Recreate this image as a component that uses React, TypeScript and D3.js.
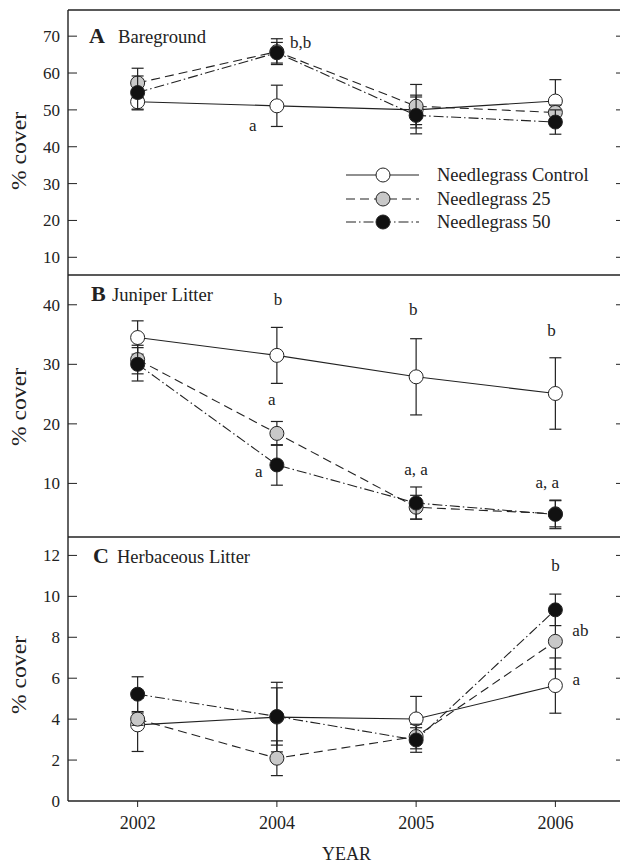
import React from 'react';
import * as d3 from 'd3';

// ---------- data ----------
const years = ['2002', '2004', '2005', '2006'];
const seriesNames = ['Needlegrass Control', 'Needlegrass 25', 'Needlegrass 50'];

// Panel A: Bareground
const bareControl = [52.2, 51.1, 50.0, 52.4];
const bareControlErr = [2.2, 5.6, 4.0, 5.8];
const bare25 = [57.3, 65.8, 51.0, 49.3];
const bare25Err = [4.0, 3.5, 5.9, 2.0];
const bare50 = [54.7, 65.5, 48.5, 46.7];
const bare50Err = [4.5, 2.8, 5.0, 3.3];

// Panel B: Juniper Litter
const junControl = [34.5, 31.5, 27.9, 25.1];
const junControlErr = [2.8, 4.7, 6.4, 6.0];
const jun25 = [30.8, 18.4, 6.0, 4.9];
const jun25Err = [2.4, 2.0, 2.0, 2.2];
const jun50 = [30.0, 13.1, 6.7, 4.8];
const jun50Err = [2.8, 3.4, 2.7, 2.4];

// Panel C: Herbaceous Litter
const herbControl = [3.72, 4.1, 4.01, 5.64];
const herbControlErr = [1.3, 1.7, 1.1, 1.35];
const herb25 = [4.0, 2.09, 3.15, 7.8];
const herb25Err = [0.3, 0.85, 0.6, 1.35];
const herb50 = [5.22, 4.13, 2.98, 9.34];
const herb50Err = [0.85, 1.4, 0.6, 0.77];

const ticksA = [10, 20, 30, 40, 50, 60, 70];
const ticksB = [10, 20, 30, 40];
const ticksC = [0, 2, 4, 6, 8, 10, 12];

// annotation labels: [text, year, value anchor (baseline), dx, anchor]
const notesA: [string, string, number, number, string][] = [
  ['a', '2004', 44.3, -24, 'middle'],
  ['b,b', '2004', 66.8, 13, 'start'],
];
const notesB: [string, string, number, number, string][] = [
  ['b', '2004', 40.0, 1, 'middle'],
  ['b', '2005', 38.3, -3, 'middle'],
  ['b', '2006', 34.75, -4, 'middle'],
  ['a', '2004', 23.2, -5, 'middle'],
  ['a', '2004', 11.1, -18, 'middle'],
  ['a, a', '2005', 11.4, 0, 'middle'],
  ['a, a', '2006', 9.2, -8, 'middle'],
];
const notesC: [string, string, number, number, string][] = [
  ['b', '2006', 11.24, 0, 'middle'],
  ['ab', '2006', 8.06, 25, 'middle'],
  ['a', '2006', 5.67, 21, 'middle'],
];

// ---------- styles ----------
const INK = '#222';
const FONT = "'Liberation Serif', Tinos, 'DejaVu Serif', serif";
const fills = ['#ffffff', '#c8c8c8', '#111111'];
const dashes = [null, '9,5', '10,3,1.5,3'];

const L = 68, R = 625;
const x = d3.scalePoint<string>().domain(years).range([L, R]).padding(0.5);

interface Panel {
  top: number; bottom: number; domain: [number, number]; ticks: number[];
  series: number[][]; errs: number[][]; letter: string; title: string; titleW: number;
  notes: [string, string, number, number, string][]; ylabY: number;
}

const panels: Panel[] = [
  { top: 10, bottom: 275, domain: [5.2, 77.1], ticks: ticksA,
    series: [bareControl, bare25, bare50], errs: [bareControlErr, bare25Err, bare50Err],
    letter: 'A', title: 'Bareground', titleW: 88, notes: notesA, ylabY: 151 },
  { top: 275, bottom: 537, domain: [1, 45], ticks: ticksB,
    series: [junControl, jun25, jun50], errs: [junControlErr, jun25Err, jun50Err],
    letter: 'B', title: 'Juniper Litter', titleW: 101, notes: notesB, ylabY: 407 },
  { top: 537, bottom: 801, domain: [0, 12.9], ticks: ticksC,
    series: [herbControl, herb25, herb50], errs: [herbControlErr, herb25Err, herb50Err],
    letter: 'C', title: 'Herbaceous Litter', titleW: 133, notes: notesC, ylabY: 675 },
];

const titlePos = [
  { lx: 89, tx: 118, off: 33 },
  { lx: 91, tx: 112, off: 26 },
  { lx: 93, tx: 117, off: 26 },
];

const txt = { fontFamily: FONT, fill: INK };

function PanelView({ p, idx }: { p: Panel; idx: number }) {
  const y = d3.scaleLinear().domain(p.domain).range([p.bottom, p.top]);
  const line = d3.line<[string, number]>().x(d => x(d[0]) as number).y(d => y(d[1]));
  const tp = titlePos[idx];
  return (
    <g>
      {p.ticks.map(t => (
        <g key={t}>
          {y(t) < p.bottom - 1 && <line x1={L} x2={L + 9} y1={y(t)} y2={y(t)} stroke={INK} strokeWidth={1} />}
          {y(t) < p.bottom - 1 && <line x1={R} x2={R - 9} y1={y(t)} y2={y(t)} stroke={INK} strokeWidth={1} />}
          <text x={60} y={y(t) + 6} textAnchor="end" fontSize={17} style={txt}>{t}</text>
        </g>
      ))}
      <text transform={`translate(26,${p.ylabY}) rotate(-90)`} textAnchor="middle" fontSize={22}
        style={txt} textLength={78} lengthAdjust="spacingAndGlyphs">% cover</text>
      <text x={tp.lx} y={p.top + tp.off} fontSize={22} fontWeight="bold" style={txt}>{p.letter}</text>
      <text x={tp.tx} y={p.top + tp.off} fontSize={18} style={txt}
        textLength={p.titleW} lengthAdjust="spacingAndGlyphs">{p.title}</text>
      {p.series.map((s, si) => (
        <path key={'l' + si} d={line(years.map((yr, i) => [yr, s[i]] as [string, number])) || ''}
          fill="none" stroke={INK} strokeWidth={1.1} strokeDasharray={dashes[si] || undefined} />
      ))}
      {p.series.map((s, si) => (
        <g key={'m' + si}>
          {s.map((v, i) => {
            const cx = x(years[i]) as number;
            const e = p.errs[si][i];
            const y1 = y(v + e), y2 = y(v - e);
            return (
              <g key={i}>
                <line x1={cx} x2={cx} y1={y1} y2={y2} stroke={INK} strokeWidth={1.2} />
                <line x1={cx - 6} x2={cx + 6} y1={y1} y2={y1} stroke={INK} strokeWidth={1.2} />
                <line x1={cx - 6} x2={cx + 6} y1={y2} y2={y2} stroke={INK} strokeWidth={1.2} />
                <circle cx={cx} cy={y(v)} r={7} fill={fills[si]} stroke={INK} strokeWidth={1} />
              </g>
            );
          })}
        </g>
      ))}
      {p.notes.map((n, i) => (
        <text key={'n' + i} x={(x(n[1]) as number) + n[3]} y={y(n[2])} textAnchor={n[4] as any}
          fontSize={17} style={txt}>{n[0]}</text>
      ))}
    </g>
  );
}

export default function App() {
  const legendY = [175, 199, 222];
  return (
    <svg width={620} height={864} style={{ position: 'absolute', left: 0, top: 0, background: '#fff' }}>
      <rect x={0} y={0} width={620} height={864} fill="#fff" />
      {panels.map((p, i) => <PanelView key={i} p={p} idx={i} />)}
      <line x1={L} x2={R} y1={10} y2={10} stroke={INK} strokeWidth={1.4} />
      <line x1={L} x2={R} y1={275} y2={275} stroke={INK} strokeWidth={1.4} />
      <line x1={L} x2={R} y1={537} y2={537} stroke={INK} strokeWidth={1.4} />
      <line x1={L} x2={R} y1={801} y2={801} stroke={INK} strokeWidth={1.4} />
      <line x1={L} x2={L} y1={10} y2={801} stroke={INK} strokeWidth={1.4} />
      <line x1={R} x2={R} y1={10} y2={801} stroke={INK} strokeWidth={1.4} />
      {years.map(yr => (
        <g key={yr}>
          <line x1={x(yr) as number} x2={x(yr) as number} y1={801} y2={807} stroke={INK} strokeWidth={1} />
          <text x={x(yr) as number} y={829} textAnchor="middle" fontSize={18} style={txt}>{yr}</text>
        </g>
      ))}
      <text x={(L + R) / 2} y={860} textAnchor="middle" fontSize={18} style={txt}>YEAR</text>
      {seriesNames.map((name, i) => (
        <g key={name}>
          <line x1={346} x2={419} y1={legendY[i]} y2={legendY[i]} stroke={INK} strokeWidth={1.1}
            strokeDasharray={dashes[i] || undefined} />
          <circle cx={383} cy={legendY[i]} r={7} fill={fills[i]} stroke={INK} strokeWidth={1} />
          <text x={437} y={legendY[i] + 6} fontSize={18.5} style={txt}>{name}</text>
        </g>
      ))}
    </svg>
  );
}
